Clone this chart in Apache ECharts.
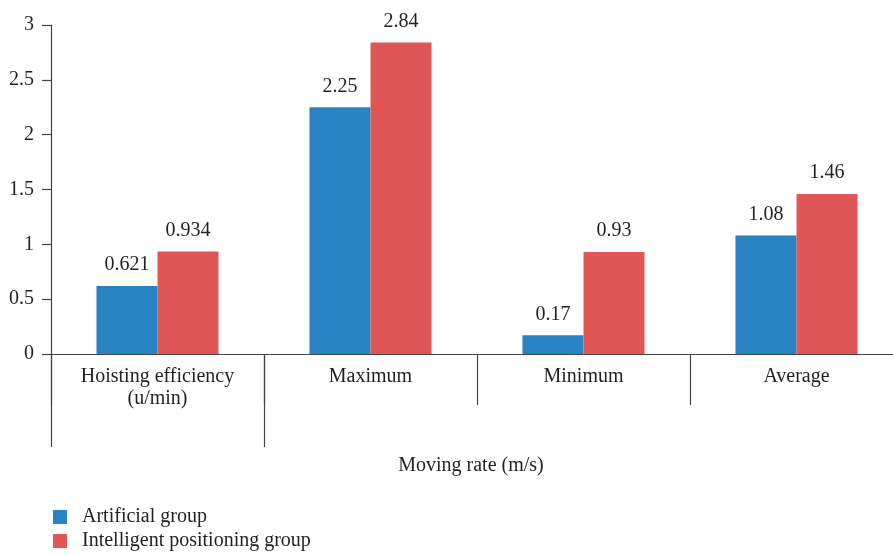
<!DOCTYPE html>
<html>
<head>
<meta charset="utf-8">
<script src="https://cdn.jsdelivr.net/npm/echarts@6/dist/echarts.min.js"></script>
<style>
  html, body { margin: 0; padding: 0; background: #fff; }
  #chart { width: 893px; height: 555px; }
</style>
</head>
<body>
<div id="chart"></div>
<script>
const CATEGORIES = ['Hoisting efficiency\n(u/min)', 'Maximum', 'Minimum', 'Average'];
const ARTIFICIAL = [0.621, 2.25, 0.17, 1.08];
const INTELLIGENT = [0.934, 2.84, 0.93, 1.46];
const SERIES_NAMES = ['Artificial group', 'Intelligent positioning group'];
const GROUP_LABEL = 'Moving rate (m/s)';
const COLORS = ['#2783c2', '#e05656'];

const FONT = '"Liberation Serif", "DejaVu Serif", serif';
const TEXT = '#231f20';
const AXIS = '#444';

const chart = echarts.init(document.getElementById('chart'));

const barLabel = {
    show: true,
    position: 'top',
    distance: 11,
    fontFamily: FONT,
    fontSize: 20,
    color: TEXT
};

// one legend per row, stacked like the original
const legendRow = (name, top) => ({
    left: 53,
    top,
    padding: 0,
    icon: 'rect',
    itemWidth: 14,
    itemHeight: 14,
    textStyle: { fontFamily: FONT, fontSize: 20, color: TEXT, padding: [0, 0, 0, 10] },
    data: [name]
});

chart.setOption({
    animation: false,
    color: COLORS,
    textStyle: { fontFamily: FONT },
    grid: { left: 51, top: 25, width: 852, height: 329, outerBoundsMode: 'none', containLabel: false },
    legend: [legendRow(SERIES_NAMES[0], 507), legendRow(SERIES_NAMES[1], 531)],
    graphic: [{
        type: 'text',
        x: 471,
        y: 466,
        style: {
            text: GROUP_LABEL,
            font: '20px ' + FONT,
            fill: TEXT,
            textAlign: 'center',
            textVerticalAlign: 'middle'
        }
    }],
    xAxis: [
        {
            type: 'category',
            data: CATEGORIES,
            axisLine: { lineStyle: { color: AXIS, width: 1.2 } },
            axisTick: { show: true, length: 51, lineStyle: { color: AXIS, width: 1.2 } },
            axisLabel: { fontFamily: FONT, fontSize: 20, color: TEXT, margin: 12, lineHeight: 22 }
        },
        {
            type: 'category',
            data: CATEGORIES,
            position: 'bottom',
            axisLine: { show: false },
            axisTick: {
                show: true,
                length: 93,
                interval: (i) => i <= 1,
                lineStyle: { color: AXIS, width: 1.2 }
            },
            axisLabel: { show: false }
        }
    ],
    yAxis: {
        type: 'value',
        min: 0,
        max: 3,
        interval: 0.5,
        splitLine: { show: false },
        axisLine: { show: true, lineStyle: { color: AXIS, width: 1.2 } },
        axisTick: { show: true, length: 9, lineStyle: { color: AXIS, width: 1.2 } },
        axisLabel: { fontFamily: FONT, fontSize: 20, color: TEXT, margin: 17 }
    },
    series: [
        {
            name: SERIES_NAMES[0],
            type: 'bar',
            data: ARTIFICIAL,
            barGap: '0%',
            barCategoryGap: '42.7%',
            label: barLabel
        },
        {
            name: SERIES_NAMES[1],
            type: 'bar',
            data: INTELLIGENT,
            barGap: '0%',
            barCategoryGap: '42.7%',
            label: barLabel
        }
    ]
});
</script>
</body>
</html>
